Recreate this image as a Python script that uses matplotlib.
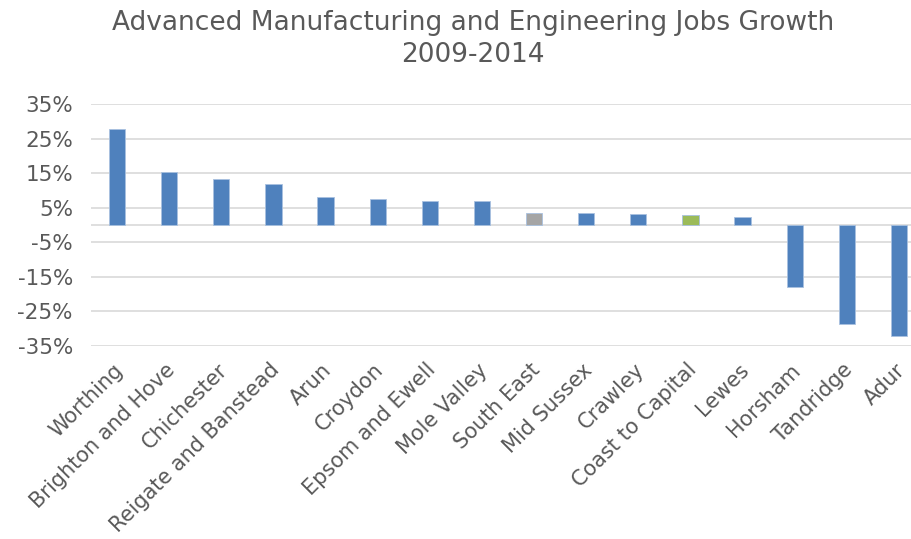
import matplotlib.pyplot as plt
from matplotlib.ticker import FuncFormatter
from matplotlib.transforms import ScaledTranslation

areas = ['Worthing', 'Brighton and Hove', 'Chichester', 'Reigate and Banstead',
         'Arun', 'Croydon', 'Epsom and Ewell', 'Mole Valley', 'South East',
         'Mid Sussex', 'Crawley', 'Coast to Capital', 'Lewes', 'Horsham',
         'Tandridge', 'Adur']
growth = [0.278, 0.154, 0.133, 0.118, 0.082, 0.074, 0.069, 0.068, 0.035,
          0.034, 0.033, 0.029, 0.024, -0.178, -0.287, -0.320]
yticks = [-0.35, -0.25, -0.15, -0.05, 0.05, 0.15, 0.25, 0.35]

blue, grey, green = '#4F81BD', '#A5A5A5', '#9BBB59'
colors = [grey if a == 'South East' else green if a == 'Coast to Capital' else blue
          for a in areas]
txt = '#595959'

fig = plt.figure(figsize=(9.12, 5.39), dpi=100)
W, H = 912, 539
ax = fig.add_axes([91 / W, 1 - 346 / H, (925 - 91) / W, (346 - 104) / H])

x = range(len(areas))
ax.bar(x, growth, width=0.31, color=colors, edgecolor='#A9C1E0', linewidth=0.6, zorder=3)

ax.set_xlim(-0.5, len(areas) - 0.5)
ax.set_ylim(-0.35, 0.35)
ax.set_yticks(yticks)
ax.yaxis.set_major_formatter(FuncFormatter(lambda v, p: f'{v * 100:.0f}%'))
ax.grid(axis='y', color='#D9D9D9', linewidth=1.2, zorder=0)
ax.axhline(0, color='#D9D9D9', linewidth=1.2, zorder=2)
for s in ax.spines.values():
    s.set_visible(False)
ax.tick_params(axis='y', length=0, labelsize=15.5, labelcolor=txt, pad=13)

ax.set_xticks(list(x))
ax.set_xticklabels(areas, rotation=45, ha='right', va='center', rotation_mode='anchor')
ax.tick_params(axis='x', length=0, labelsize=15, labelcolor=txt, pad=15)
# nudge the rotated labels so their ends sit just right of each tick
shift = ScaledTranslation(3 / 100, 0, fig.dpi_scale_trans)
for lab in ax.get_xticklabels():
    lab.set_transform(lab.get_transform() + shift)

fig.text(473 / W, 1 - 39 / H, 'Advanced Manufacturing and Engineering Jobs Growth\n2009-2014',
         ha='center', va='center', fontsize=19, color=txt, linespacing=1.25)

fig.savefig('out.png', dpi=100)
